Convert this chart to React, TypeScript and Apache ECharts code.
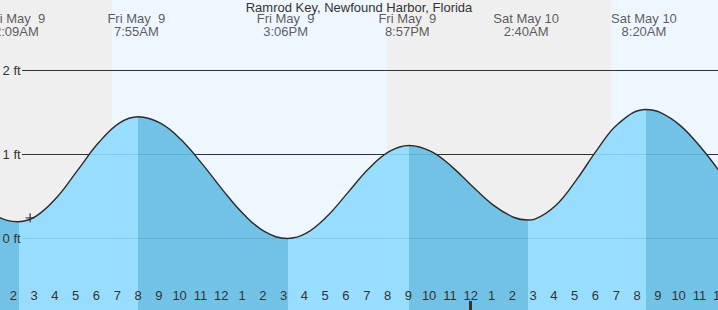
import React, { useEffect, useRef } from "react";
import * as echarts from "echarts";

const FONT = '"Liberation Sans", Arial, Helvetica, sans-serif';
const TITLE = "Ramrod Key, Newfound Harbor, Florida";

// hours after midnight, Fri May 9 -> tide height in feet
const tideHours = [0, 1, 2.15, 3, 4, 5, 6, 7, 7.917, 9, 10, 11, 12, 13, 14, 15.1, 16, 17, 18, 19, 20, 20.95, 22, 23, 24, 25, 26, 26.667, 27, 28, 29, 30, 31, 32.333, 33, 34, 35, 36, 37];
const tideFeet = [0.45, 0.275, 0.2, 0.266, 0.491, 0.814, 1.139, 1.374, 1.45, 1.37, 1.169, 0.885, 0.57, 0.285, 0.082, 0.0, 0.063, 0.264, 0.546, 0.83, 1.036, 1.107, 1.036, 0.856, 0.62, 0.398, 0.25, 0.22, 0.231, 0.392, 0.698, 1.058, 1.364, 1.536, 1.504, 1.344, 1.08, 0.764, 0.45];

// high / low events
const eventHours = [2.15, 7.917, 15.1, 20.95, 26.667, 32.333];
const eventKinds = ["low", "high", "low", "high", "low", "high"];
const eventDays = ["Fri May \u00a09", "Fri May \u00a09", "Fri May \u00a09", "Fri May \u00a09", "Sat May 10", "Sat May 10"];
const eventTimes = ["2:09AM", "7:55AM", "3:06PM", "8:57PM", "2:40AM", "8:20AM"];

// daylight / night spans (hours)
const nightSpans = [[0, 6.651], [19.884, 30.664]];
const daySpans = [[6.651, 19.884], [30.664, 40]];

// current time marker
const nowHour = 2.71;
const nowFeet = 0.246;

// axis ranges
const hourMin = 1;
const hourMax = 36;
const feetMin = -1;
const feetMax = 3;
const feetTicks = [0, 1, 2];

const NIGHT = "#efefef";
const DAY = "#eef6ff";
const RISE = "#8fdbff";
const FALL = "#65bde4";

export default function App() {
  const ref = useRef<HTMLDivElement>(null);
  useEffect(() => {
    if (!ref.current) return;
    const chart = echarts.init(ref.current, undefined, { renderer: "svg" });
    const tideData = tideHours.map((h, i) => [h, tideFeet[i]]);
    const pieces: any[] = [{ lt: eventHours[0], color: FALL }];
    eventHours.forEach((h, i) => {
      const p: any = { gte: h, color: eventKinds[i] === "low" ? RISE : FALL };
      if (i + 1 < eventHours.length) p.lt = eventHours[i + 1];
      pieces.push(p);
    });
    const bands = [
      ...nightSpans.map((s) => [{ xAxis: s[0], itemStyle: { color: NIGHT } }, { xAxis: s[1] }]),
      ...daySpans.map((s) => [{ xAxis: s[0], itemStyle: { color: DAY } }, { xAxis: s[1] }]),
    ];
    const LABEL_Y = 24.5;
    const G = { outerBoundsMode: "none", containLabel: false };
    const option: any = {
      animation: false,
      backgroundColor: "#ffffff",
      textStyle: { fontFamily: FONT },
      title: {
        text: TITLE,
        left: "center",
        top: 1,
        padding: 0,
        textStyle: { fontSize: 13, fontWeight: "normal", color: "#333", fontFamily: FONT },
      },
      visualMap: { type: "piecewise", show: false, dimension: 0, seriesIndex: 1, pieces },
      grid: [
        { ...G, left: -5.4, right: -3.9, top: -13.5, bottom: -12.5 },
        { ...G, left: 22, right: 0, top: -13.5, bottom: -12.5 },
        { ...G, left: -7.5, right: -2.2, top: 0, bottom: 0 },
        { ...G, left: -28.3, right: -2.2, top: 0, bottom: 0 },
      ],
      xAxis: [
        { gridIndex: 0, type: "value", min: hourMin, max: hourMax, show: false },
        { gridIndex: 1, type: "value", min: 0, max: 1, show: false },
        {
          gridIndex: 2, type: "value", min: hourMin, max: hourMax, interval: 1, position: "bottom", z: 5,
          axisLine: { show: false },
          axisTick: { inside: true, length: 9, lineStyle: { color: "#333", width: 1 } },
          axisLabel: {
            inside: true, margin: 8, color: "#333", fontSize: 13, fontFamily: FONT,
            showMinLabel: true, showMaxLabel: true, hideOverlap: false,
            formatter: (v: number) => String(v % 12 || 12),
          },
          splitLine: { show: false },
        },
        {
          gridIndex: 3, type: "value", min: 0, max: hourMax, interval: 24, position: "bottom", z: 5,
          axisLine: { show: false },
          axisTick: { inside: true, length: 9, lineStyle: { color: "#333", width: 3 } },
          axisLabel: { show: false },
          splitLine: { show: false },
        },
      ],
      yAxis: [
        {
          gridIndex: 0, type: "value", min: feetMin, max: feetMax, interval: 1, z: 10,
          axisLine: { show: false }, axisTick: { show: false }, splitLine: { show: false },
          axisLabel: {
            inside: true, margin: 8, color: "#333", fontSize: 13, fontFamily: FONT,
            formatter: (v: number) => (feetTicks.indexOf(v) >= 0 ? v + " ft" : ""),
          },
        },
        {
          gridIndex: 1, type: "value", min: feetMin, max: feetMax, interval: 1, z: 0,
          axisLine: { show: false }, axisTick: { show: false }, axisLabel: { show: false },
          splitLine: { show: true, lineStyle: { color: "#333", width: 1 } },
        },
        { gridIndex: 2, type: "value", min: 0, max: 310, inverse: true, show: false },
        { gridIndex: 3, type: "value", min: 0, max: 1, show: false },
      ],
      series: [
        {
          type: "line", xAxisIndex: 0, yAxisIndex: 0, z: -1, silent: true,
          data: tideData, symbol: "none", lineStyle: { width: 0, opacity: 0 },
          markArea: { silent: true, z: -1, data: bands },
        },
        {
          type: "line", xAxisIndex: 0, yAxisIndex: 0, z: 2, silent: true,
          data: tideData, smooth: 0.4, symbol: "none",
          lineStyle: { width: 0, opacity: 0 },
          areaStyle: { opacity: 0.9, origin: "start" },
        },
        {
          type: "line", xAxisIndex: 0, yAxisIndex: 0, z: 3, silent: true,
          data: tideData, smooth: 0.4, symbol: "none",
          itemStyle: { color: "#2b2b2b" },
          lineStyle: { color: "#2b2b2b", width: 1.4 },
        },
        {
          type: "scatter", xAxisIndex: 0, yAxisIndex: 0, z: 4, silent: true,
          data: [[nowHour, nowFeet]],
          symbol: "path://M4.25,0H5.75V10H4.25Z M0,4.25H10V5.75H0Z",
          symbolSize: 9,
          itemStyle: { color: "#222" },
        },
        {
          type: "scatter", xAxisIndex: 2, yAxisIndex: 2, z: 6, silent: true,
          data: eventHours.map((h) => [h, LABEL_Y]),
          symbolSize: 0,
          label: {
            show: true, position: "inside", color: "#333", fontSize: 13, lineHeight: 13,
            fontFamily: FONT, align: "center", verticalAlign: "middle",
            formatter: (p: any) => eventDays[p.dataIndex] + "\n" + eventTimes[p.dataIndex],
          },
        },
      ],
    };
    chart.setOption(option);
    return () => chart.dispose();
  }, []);
  return (
    <div
      ref={ref}
      style={{ position: "fixed", left: 0, top: 0, width: 718, height: 310 }}
    />
  );
}
